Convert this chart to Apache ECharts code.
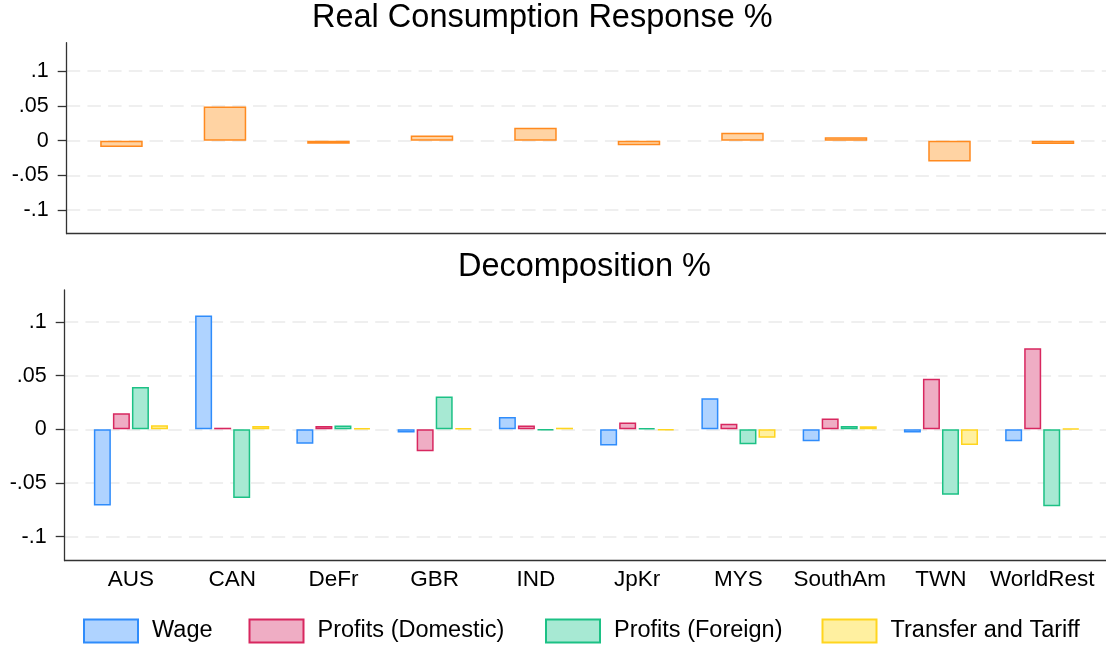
<!DOCTYPE html>
<html>
<head>
<meta charset="utf-8">
<script src="https://cdn.jsdelivr.net/npm/echarts@6/dist/echarts.min.js"></script>
<style>
  html, body { margin: 0; padding: 0; background: #fff; }
  #chart { width: 1106px; height: 646px; }
</style>
</head>
<body>
<div id="chart"></div>
<script>
// Regions shown along the horizontal axis
const regions = ['AUS', 'CAN', 'DeFr', 'GBR', 'IND', 'JpKr', 'MYS', 'SouthAm', 'TWN', 'WorldRest'];

// Real consumption response (%)
const consumption = [-0.0092, 0.0490, -0.0043, 0.0073, 0.0184, -0.0068, 0.0112, 0.0049, -0.0300, -0.0049];

// Decomposition (%)
const wage        = [-0.0710, 0.1060, -0.0135, -0.0030, 0.0115, -0.0150, 0.0290, -0.0110, -0.0030, -0.0110];
const profitsDom  = [0.0150, 0.0015, 0.0030, -0.0205, 0.0035, 0.0063, 0.0052, 0.0100, 0.0470, 0.0755];
const profitsFor  = [0.0393, -0.0640, 0.0035, 0.0305, -0.0010, 0.0010, -0.0140, 0.0030, -0.0610, -0.0715];
const transfer    = [0.0038, 0.0032, 0.0010, 0.0010, 0.0015, -0.0010, -0.0078, 0.0028, -0.0147, 0.0008];

const seriesNames = ['Wage', 'Profits (Domestic)', 'Profits (Foreign)', 'Transfer and Tariff'];
const yTicks = [-0.1, -0.05, 0, 0.05, 0.1];

const FONT = '"Liberation Sans", Arial, Helvetica, sans-serif';
const AXIS_COLOR = '#333333';

const palette = [
  { fill: '#AFD3FF', line: '#2F8CFB' },
  { fill: '#EFADC4', line: '#D8275F' },
  { fill: '#A7E9D3', line: '#1CC185' },
  { fill: '#FFF0A0', line: '#FFD51E' }
];
const orange = { fill: '#FFD3A3', line: '#FF8A1F' };

function stataNum(v) {
  const r = Math.round(v * 1000) / 1000;
  if (r === 0) return '0';
  return String(r).replace('0.', '.');
}

function pairs(values) {
  return values.map((v, i) => [i, v]);
}

function yAxisFor(gridIndex, min, max) {
  return {
    type: 'value',
    gridIndex: gridIndex,
    min: min,
    max: max,
    axisLine: { show: true, onZero: false, lineStyle: { color: AXIS_COLOR, width: 1.3 } },
    axisTick: { show: true, length: 9, customValues: yTicks, lineStyle: { color: AXIS_COLOR, width: 1.3 } },
    axisLabel: {
      customValues: yTicks,
      margin: 18,
      fontFamily: FONT,
      fontSize: 21.5,
      color: '#000',
      formatter: stataNum
    },
    splitLine: {
      show: true,
      lineStyle: { color: '#EAEAEA', width: 1.5, type: [13.5, 7.2] }
    }
  };
}

function xAxisFor(gridIndex, min, max, showLabels) {
  return {
    type: 'value',
    gridIndex: gridIndex,
    min: min,
    max: max,
    axisLine: { show: true, onZero: false, lineStyle: { color: AXIS_COLOR, width: 1.3 } },
    axisTick: { show: false },
    splitLine: { show: false },
    axisLabel: {
      show: showLabels,
      customValues: regions.map((_, i) => i),
      margin: 8,
      fontFamily: FONT,
      fontSize: 22.5,
      color: '#000',
      formatter: (v) => regions[Math.round(v)] || ''
    }
  };
}

const decompositionData = [wage, profitsDom, profitsFor, transfer];

const decompositionSeries = decompositionData.map((vals, k) => ({
  name: seriesNames[k],
  type: 'bar',
  xAxisIndex: 1,
  yAxisIndex: 1,
  data: pairs(vals),
  barWidth: 17,
  barGap: '12%',
  itemStyle: { color: palette[k].fill, borderColor: palette[k].line, borderWidth: 1.5 }
}));

const legendLefts = [83, 248.5, 545, 821.5];
const legends = seriesNames.map((name, k) => ({
  data: [name],
  left: legendLefts[k],
  top: 618.5,
  padding: 0,
  itemWidth: 54,
  itemHeight: 23,
  icon: 'rect',
  selectedMode: false,
  textStyle: { fontFamily: FONT, fontSize: 23.5, color: '#000', padding: [0, 0, 0, 9] }
}));

const option = {
  backgroundColor: '#fff',
  animation: false,
  textStyle: { fontFamily: FONT },
  title: [
    {
      text: 'Real Consumption Response %',
      left: 312, top: 2, padding: 0,
      textStyle: { fontFamily: FONT, fontSize: 32.5, fontWeight: 'normal', color: '#000' }
    },
    {
      text: 'Decomposition %',
      left: 458, top: 250.5, padding: 0,
      textStyle: { fontFamily: FONT, fontSize: 32.5, fontWeight: 'normal', color: '#000' }
    }
  ],
  legend: legends,
  grid: [
    { left: 66.7, right: 0, top: 42.7, height: 191 },
    { left: 64.7, right: 0, top: 290, height: 270.7 }
  ],
  xAxis: [
    xAxisFor(0, -0.529, 9.512, false),
    xAxisFor(1, -0.654, 9.63, true)
  ],
  yAxis: [
    yAxisFor(0, -0.1338, 0.1408),
    yAxisFor(1, -0.1223, 0.1297)
  ],
  series: [
    {
      name: 'Real Consumption Response %',
      type: 'bar',
      xAxisIndex: 0,
      yAxisIndex: 0,
      data: pairs(consumption),
      barWidth: 42.5,
      itemStyle: { color: orange.fill, borderColor: orange.line, borderWidth: 1.5 }
    }
  ].concat(decompositionSeries)
};

const chart = echarts.init(document.getElementById('chart'), null, { renderer: 'canvas' });
chart.setOption(option);
</script>
</body>
</html>
